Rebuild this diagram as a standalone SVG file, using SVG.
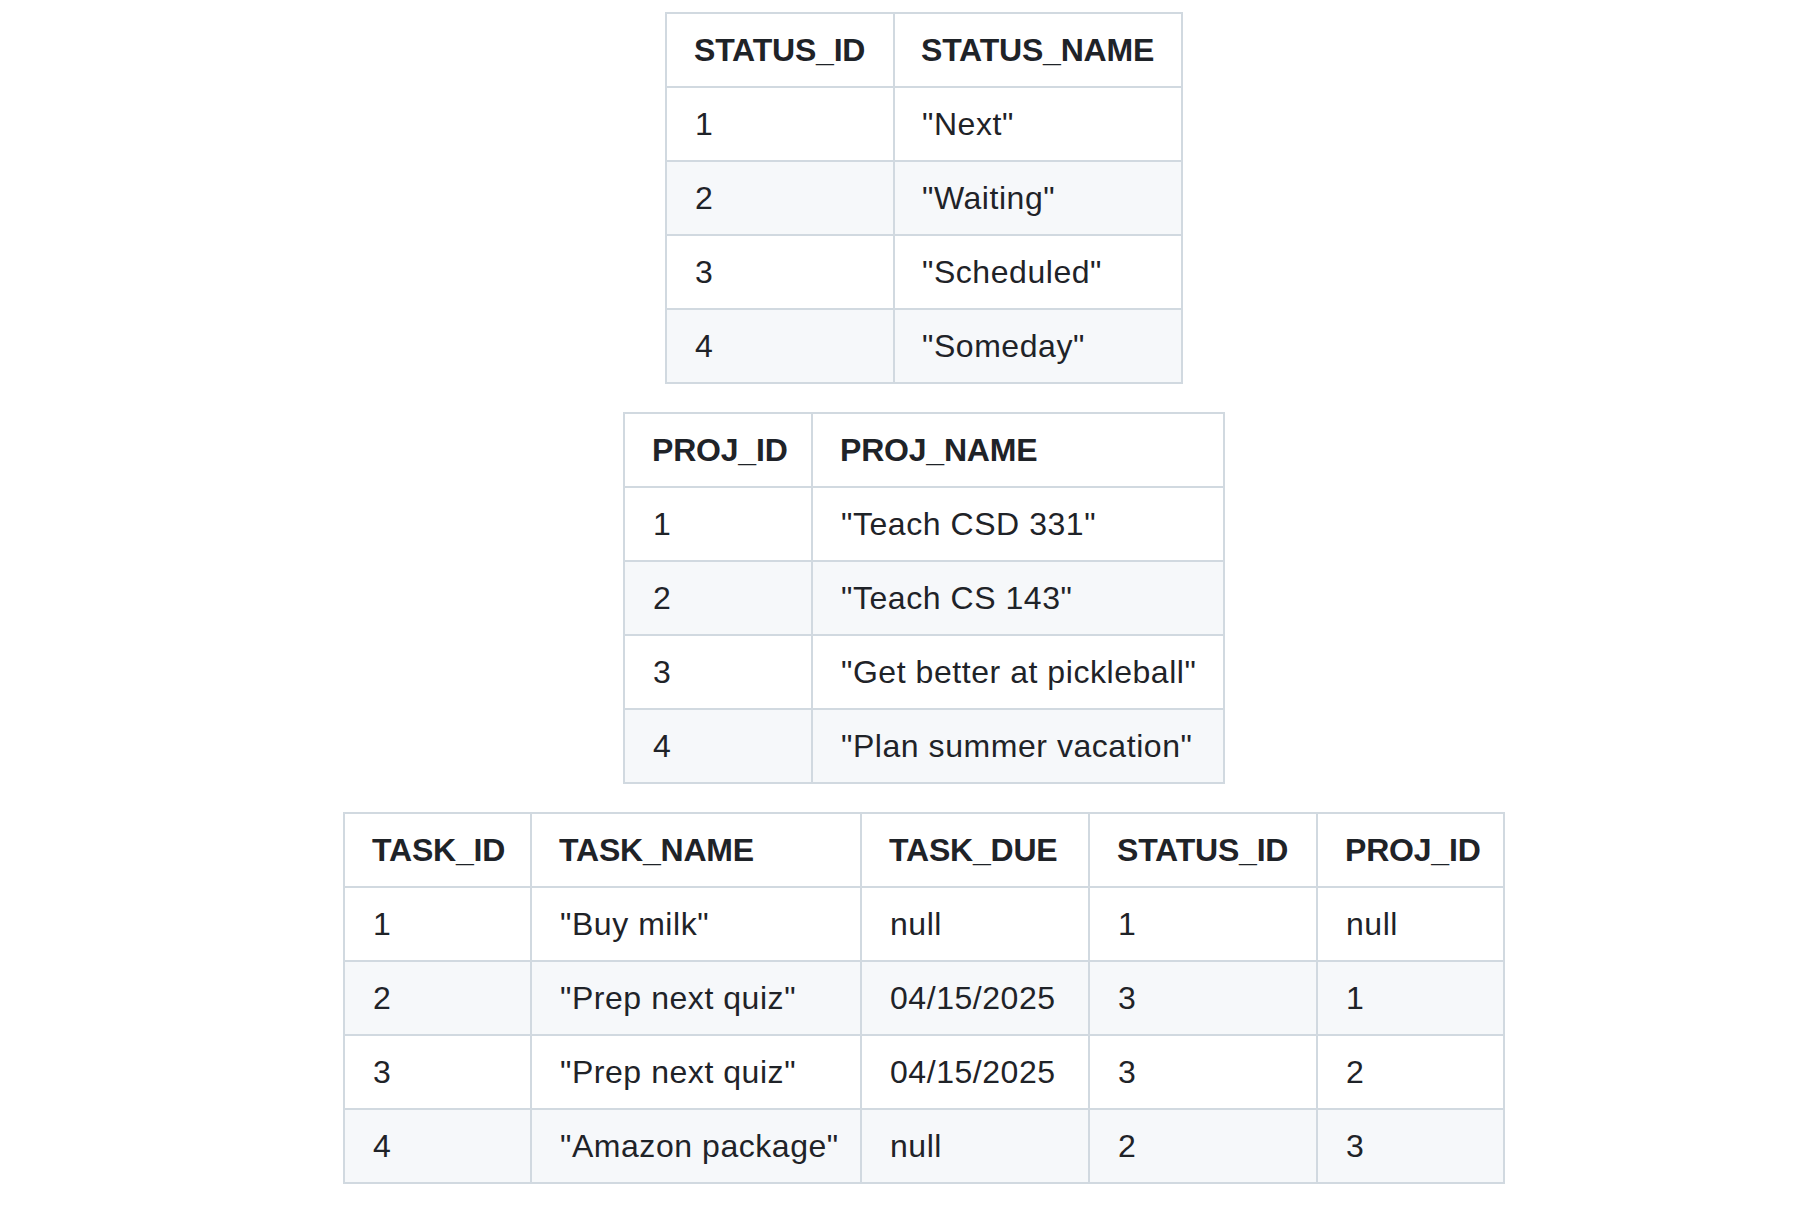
<svg xmlns="http://www.w3.org/2000/svg" width="1804" height="1212" viewBox="0 0 1804 1212">
<style>
.bg{fill:#ffffff}
.alt{fill:#f6f8fa}
.grid{stroke:#d1d9e0;stroke-width:2;fill:none}
text{font-family:"Liberation Sans",Arial,sans-serif;font-size:32px;fill:#1f2328;letter-spacing:0.55px}
.h{font-weight:bold;letter-spacing:-0.2px}
</style>
<rect x="0" y="0" width="1804" height="1212" fill="#ffffff"/>
<g id="status_table">
<rect class="bg" x="666" y="13" width="516" height="370"/>
<rect class="alt" x="666" y="161" width="516" height="74"/>
<rect class="alt" x="666" y="309" width="516" height="74"/>
<path class="grid" d="M666 13H1182V383H666Z M666 87H1182 M666 161H1182 M666 235H1182 M666 309H1182 M894 13V383"/>
<text class="h" x="694" y="61">STATUS_ID</text>
<text class="h" x="921" y="61">STATUS_NAME</text>
<text x="695" y="135">1</text><text x="922" y="135">"Next"</text>
<text x="695" y="209">2</text><text x="922" y="209">"Waiting"</text>
<text x="695" y="283">3</text><text x="922" y="283">"Scheduled"</text>
<text x="695" y="357">4</text><text x="922" y="357">"Someday"</text>
</g>
<g id="proj_table">
<rect class="bg" x="624" y="413" width="600" height="370"/>
<rect class="alt" x="624" y="561" width="600" height="74"/>
<rect class="alt" x="624" y="709" width="600" height="74"/>
<path class="grid" d="M624 413H1224V783H624Z M624 487H1224 M624 561H1224 M624 635H1224 M624 709H1224 M812 413V783"/>
<text class="h" x="652" y="461">PROJ_ID</text>
<text class="h" x="840" y="461">PROJ_NAME</text>
<text x="653" y="535">1</text><text x="841" y="535">"Teach CSD 331"</text>
<text x="653" y="609">2</text><text x="841" y="609">"Teach CS 143"</text>
<text x="653" y="683">3</text><text x="841" y="683">"Get better at pickleball"</text>
<text x="653" y="757">4</text><text x="841" y="757">"Plan summer vacation"</text>
</g>
<g id="task_table">
<rect class="bg" x="344" y="813" width="1160" height="370"/>
<rect class="alt" x="344" y="961" width="1160" height="74"/>
<rect class="alt" x="344" y="1109" width="1160" height="74"/>
<path class="grid" d="M344 813H1504V1183H344Z M344 887H1504 M344 961H1504 M344 1035H1504 M344 1109H1504 M531 813V1183 M861 813V1183 M1089 813V1183 M1317 813V1183"/>
<text class="h" x="372" y="861">TASK_ID</text>
<text class="h" x="559" y="861">TASK_NAME</text>
<text class="h" x="889" y="861">TASK_DUE</text>
<text class="h" x="1117" y="861">STATUS_ID</text>
<text class="h" x="1345" y="861">PROJ_ID</text>
<text x="373" y="935">1</text><text x="560" y="935">"Buy milk"</text><text x="890" y="935">null</text><text x="1118" y="935">1</text><text x="1346" y="935">null</text>
<text x="373" y="1009">2</text><text x="560" y="1009">"Prep next quiz"</text><text x="890" y="1009">04/15/2025</text><text x="1118" y="1009">3</text><text x="1346" y="1009">1</text>
<text x="373" y="1083">3</text><text x="560" y="1083">"Prep next quiz"</text><text x="890" y="1083">04/15/2025</text><text x="1118" y="1083">3</text><text x="1346" y="1083">2</text>
<text x="373" y="1157">4</text><text x="560" y="1157">"Amazon package"</text><text x="890" y="1157">null</text><text x="1118" y="1157">2</text><text x="1346" y="1157">3</text>
</g>
<g id="connectors"></g>
</svg>
